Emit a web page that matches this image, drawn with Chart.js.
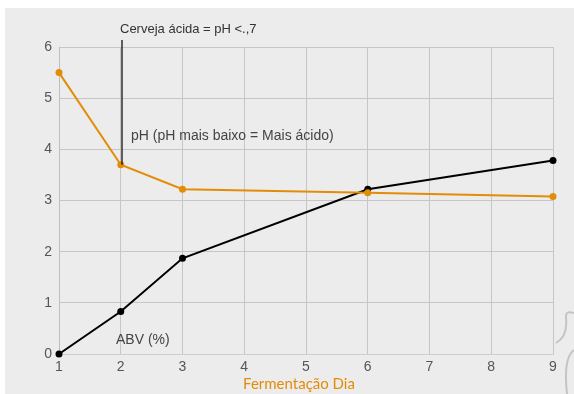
<!DOCTYPE html>
<html>
<head>
<meta charset="utf-8">
<script src="https://cdn.jsdelivr.net/npm/chart.js@4/dist/chart.umd.min.js"></script>
<style>
html,body{margin:0;padding:0;background:#fff;}
#wrap{width:574px;height:394px;position:relative;}
</style>
</head>
<body>
<div id="wrap"><canvas id="c" width="574" height="394"></canvas></div>
<script>
const days = [1, 2, 3, 6, 9];
const phValues = [5.5, 3.7, 3.22, 3.15, 3.08];
const abvValues = [0, 0.83, 1.87, 3.22, 3.78];
const xTicks = [1, 2, 3, 4, 5, 6, 7, 8, 9];
const yTicks = [0, 1, 2, 3, 4, 5, 6];
const phLabel = 'pH (pH mais baixo = Mais ácido)';
const abvLabel = 'ABV (%)';
const annotationText = 'Cerveja ácida = pH <.,7';
const annotationDay = 2;
const xTitle = 'Fermentação Dia';

const ORANGE = '#e38c07';
const BLACK = '#000000';
const SANS = '"Liberation Sans", Arial, sans-serif';

const decor = {
  id: 'decor',
  beforeDraw(chart) {
    const ctx = chart.ctx;
    ctx.save();
    ctx.fillStyle = '#ffffff';
    ctx.fillRect(0, 0, chart.width, chart.height);
    ctx.fillStyle = '#ececec';
    ctx.fillRect(5, 8, chart.width - 5, chart.height - 8);
    ctx.strokeStyle = '#c4c4c4';
    ctx.lineWidth = 2;
    ctx.beginPath();
    ctx.moveTo(574, 313);
    ctx.quadraticCurveTo(565, 310, 566, 318);
    ctx.quadraticCurveTo(568, 336, 556, 343);
    ctx.stroke();
    ctx.beginPath();
    ctx.moveTo(574, 350);
    ctx.quadraticCurveTo(563, 358, 567, 394);
    ctx.stroke();
    ctx.restore();
  },
  afterDatasetsDraw(chart) {
    const ctx = chart.ctx;
    const xs = chart.scales.x, ys = chart.scales.y;
    const idx = days.indexOf(annotationDay);
    const px = Math.round(xs.getPixelForValue(annotationDay)) + 1;
    const py = ys.getPixelForValue(phValues[idx]);
    ctx.save();
    ctx.strokeStyle = '#111';
    ctx.lineWidth = 1.3;
    ctx.beginPath();
    ctx.moveTo(px, 40);
    ctx.lineTo(px, py);
    ctx.stroke();
    ctx.font = '13px ' + SANS;
    ctx.fillStyle = '#333';
    ctx.textBaseline = 'middle';
    ctx.textAlign = 'left';
    ctx.fillText(annotationText, px - 2, 29);
    ctx.font = '14px ' + SANS;
    ctx.fillStyle = '#444';
    ctx.fillText(phLabel, 131, 136);
    ctx.fillText(abvLabel, 116, 340);
    ctx.font = '15px Lato, "Open Sans", sans-serif';
    ctx.fillStyle = ORANGE;
    ctx.textAlign = 'center';
    ctx.fillText(xTitle, 299, 384);
    ctx.restore();
  }
};

new Chart(document.getElementById('c'), {
  type: 'line',
  data: {
    datasets: [
      {
        label: 'pH',
        data: days.map((d, i) => ({x: d, y: phValues[i]})),
        borderColor: ORANGE,
        backgroundColor: ORANGE,
        borderWidth: 2,
        pointRadius: 3.5,
        pointBorderWidth: 0,
        tension: 0,
        clip: false
      },
      {
        label: 'ABV',
        data: days.map((d, i) => ({x: d, y: abvValues[i]})),
        borderColor: BLACK,
        backgroundColor: BLACK,
        borderWidth: 2,
        pointRadius: 3.5,
        pointBorderWidth: 0,
        tension: 0,
        clip: false
      }
    ]
  },
  options: {
    responsive: false,
    animation: false,
    devicePixelRatio: 1,
    layout: {padding: {left: 0, top: 47, right: 21, bottom: 0}},
    plugins: {legend: {display: false}, tooltip: {enabled: false}},
    scales: {
      x: {
        type: 'linear',
        min: 1, max: 9,
        afterBuildTicks(axis) { axis.ticks = xTicks.map(v => ({value: v})); },
        afterFit(axis) { axis.height = 40; },
        grid: {color: '#c6c6c6', lineWidth: 1, drawTicks: false},
        border: {color: '#cfcfcf', width: 1},
        ticks: {color: '#555', font: {family: SANS, size: 14}, padding: 5, maxRotation: 0},
        title: {display: false}
      },
      y: {
        type: 'linear',
        min: 0, max: 6,
        afterBuildTicks(axis) { axis.ticks = yTicks.map(v => ({value: v})); },
        afterFit(axis) { axis.width = 59; },
        grid: {color: '#c6c6c6', lineWidth: 1, drawTicks: false},
        border: {color: '#bdbdbd', width: 1},
        ticks: {color: '#555', font: {family: SANS, size: 14}, padding: 7}
      }
    }
  },
  plugins: [decor]
});
</script>
</body>
</html>
